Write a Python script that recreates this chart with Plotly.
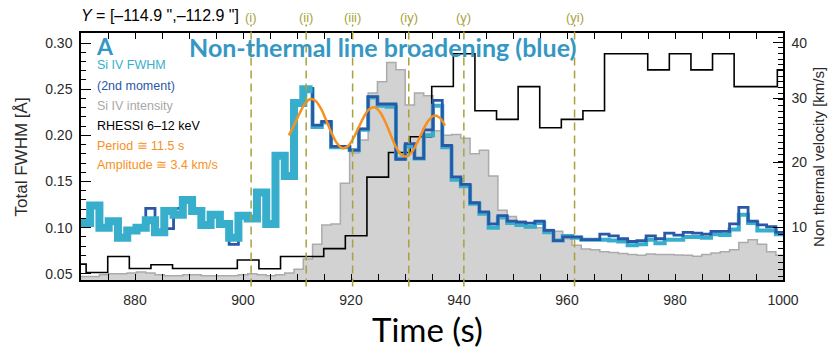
import numpy as np
import plotly.graph_objects as go

# ---------------- data ----------------
# IRIS Si IV time grid (left bin edges, s)
iris_t_start = 869.98
iris_cadence = 1.716

fwhm_siiv = [0.105, 0.124, 0.100, 0.107, 0.089, 0.097, 0.100, 0.108, 0.095, 0.118,
             0.114, 0.130, 0.118, 0.103, 0.114, 0.104, 0.089, 0.113, 0.110, 0.138,
             0.104, 0.178, 0.156, 0.235, 0.250, 0.209, 0.214, 0.187, 0.187, 0.184,
             0.206, 0.241, 0.232, 0.231, 0.175, 0.188, 0.175, 0.200, 0.232, 0.187,
             0.152, 0.145, 0.126, 0.115, 0.100, 0.111, 0.105, 0.103, 0.101, 0.105,
             0.095, 0.086, 0.091, 0.089, 0.087, 0.087, 0.087, 0.086, 0.085, 0.081,
             0.082, 0.087, 0.083, 0.087, 0.087, 0.090, 0.090, 0.089, 0.093, 0.092,
             0.098, 0.114, 0.105, 0.097, 0.097, 0.093]

fwhm_2nd_moment = [0.105, 0.124, 0.100, 0.107, 0.092, 0.097, 0.100, 0.121, 0.095, 0.099,
                   0.121, 0.130, 0.118, 0.103, 0.114, 0.104, 0.082, 0.113, 0.110, 0.138,
                   0.104, 0.178, 0.156, 0.237, 0.251, 0.211, 0.215, 0.188, 0.188, 0.184,
                   0.207, 0.242, 0.234, 0.234, 0.174, 0.191, 0.175, 0.206, 0.238, 0.189,
                   0.155, 0.147, 0.127, 0.117, 0.104, 0.113, 0.107, 0.106, 0.105, 0.107,
                   0.097, 0.086, 0.090, 0.090, 0.087, 0.087, 0.093, 0.091, 0.088, 0.085,
                   0.086, 0.091, 0.088, 0.094, 0.092, 0.095, 0.094, 0.093, 0.096, 0.096,
                   0.104, 0.122, 0.107, 0.103, 0.101, 0.095]

# Si IV intensity, scaled to the left axis
siiv_intensity = [0.047, 0.047, 0.049, 0.050, 0.050, 0.051, 0.052, 0.051, 0.049, 0.048,
                  0.048, 0.049, 0.049, 0.048, 0.048, 0.048, 0.048, 0.049, 0.050, 0.049,
                  0.048, 0.049, 0.051, 0.055, 0.066, 0.082, 0.103, 0.104, 0.148, 0.181,
                  0.195, 0.246, 0.258, 0.279, 0.271, 0.233, 0.246, 0.243, 0.205, 0.200,
                  0.201, 0.197, 0.180, 0.184, 0.156, 0.119, 0.112, 0.107, 0.100, 0.100,
                  0.098, 0.096, 0.088, 0.081, 0.077, 0.076, 0.074, 0.073, 0.072, 0.071,
                  0.070, 0.0715, 0.071, 0.071, 0.0705, 0.070, 0.069, 0.071, 0.0725, 0.074,
                  0.076, 0.084, 0.087, 0.082, 0.074, 0.070]

# RHESSI 6-12 keV, scaled to the left axis (4 s bins)
rhessi_t_start = 866.95
rhessi_cadence = 4.0
rhessi_6_12 = [0.0606, 0.0514, 0.0688, 0.0558, 0.0598, 0.0558, 0.0558, 0.0558, 0.0649, 0.0555,
               0.0688, 0.0688, 0.0773, 0.0913, 0.1548, 0.1815, 0.1985, 0.2530, 0.2884, 0.2267,
               0.2173, 0.2528, 0.2082, 0.2173, 0.2267, 0.2884, 0.2884, 0.2709, 0.2884, 0.2709,
               0.2884, 0.2528, 0.2528, 0.2709]

# Oscillation fit (orange)
osc_time = [908.5, 909.4, 910.4, 911.4, 912.4, 913.4, 914.4, 915.4, 916.4, 917.4,
            918.4, 919.4, 920.4, 921.4, 922.4, 923.4, 924.4, 925.4, 926.4, 927.4,
            928.4, 929.4, 930.4, 931.4, 932.4, 933.4, 934.4, 935.4, 936.4, 937.4]
osc_fwhm = [0.2000, 0.2105, 0.2229, 0.2336, 0.2391, 0.2376, 0.2294, 0.2164, 0.2025, 0.1914,
            0.1861, 0.1881, 0.1964, 0.2084, 0.2203, 0.2285, 0.2303, 0.2249, 0.2139, 0.1999,
            0.1867, 0.1787, 0.1774, 0.1831, 0.1937, 0.2062, 0.2165, 0.2214, 0.2192, 0.2105]

# Event markers
event_times = [901.5, 911.7, 920.3, 930.7, 940.9, 961.4]
event_labels = ["(i)", "(ii)", "(iii)", "(iy)", "(y)", "(yi)"]

# Right-axis calibration: non-thermal velocity (km/s) -> total FWHM (A)
vel_ticks = [10, 20, 30, 40]
vel_tick_fwhm = [0.1004, 0.1711, 0.2399, 0.3003]

x_range = [870, 1000]
y_range = [0.0433, 0.3109]

# ---------------- colours ----------------
C_CYAN = "#37AECB"
C_BLUE = "#2B57A7"
C_GRAY_FILL = "#D2D2D2"
C_GRAY_LINE = "#ABABAB"
C_ORANGE = "#F7901E"
C_OLIVE = "#A8A23E"
C_TITLE = "#3598C4"
FONT = "Liberation Sans, Arial, sans-serif"
FONT_C = "Lato, Open Sans, sans-serif"


def steps(t_start, cadence, vals, i0=0, i1=None):
    vals = list(vals)
    if i1 is None:
        i1 = len(vals)
    v = vals[i0:i1]
    x = t_start + cadence * np.arange(i0, i1 + 1)
    y = v + [v[-1]]
    return x, y


fig = go.Figure()

# Si IV intensity (gray filled histogram)
gx, gy = steps(iris_t_start, iris_cadence, siiv_intensity)
fig.add_trace(go.Scatter(x=gx, y=gy, mode="lines", line=dict(shape="hv", color=C_GRAY_LINE, width=1.5),
                         fill="tozeroy", fillcolor=C_GRAY_FILL, hoverinfo="skip", showlegend=False))

# RHESSI
rx, ry = steps(rhessi_t_start, rhessi_cadence, rhessi_6_12)
fig.add_trace(go.Scatter(x=rx, y=ry, mode="lines", line=dict(shape="hv", color="black", width=1.6),
                         showlegend=False))

# Si IV FWHM (thin part, beneath the 2nd moment)
cx, cy = steps(iris_t_start, iris_cadence, fwhm_siiv, 24, None)
fig.add_trace(go.Scatter(x=cx, y=cy, mode="lines", line=dict(shape="hv", color=C_CYAN, width=4),
                         showlegend=False))

# 2nd moment
bx, by = steps(iris_t_start, iris_cadence, fwhm_2nd_moment)
fig.add_trace(go.Scatter(x=bx, y=by, mode="lines", line=dict(shape="hv", color=C_BLUE, width=2.8),
                         showlegend=False))

# Si IV FWHM (thick part)
cx2, cy2 = steps(iris_t_start, iris_cadence, fwhm_siiv, 0, 25)
fig.add_trace(go.Scatter(x=cx2, y=cy2, mode="lines", line=dict(shape="hv", color=C_CYAN, width=8),
                         showlegend=False))

# Oscillation fit
fig.add_trace(go.Scatter(x=osc_time, y=osc_fwhm, mode="lines",
                         line=dict(shape="spline", color=C_ORANGE, width=2.5), showlegend=False))

# dummy trace to activate the right axis
fig.add_trace(go.Scatter(x=[x_range[0]], y=[y_range[0]], yaxis="y2", mode="markers",
                         marker=dict(opacity=0), hoverinfo="skip", showlegend=False))

# Event lines
for t in event_times:
    fig.add_shape(type="line", xref="x", yref="paper", x0=t, x1=t, y0=-0.026, y1=1.034,
                  line=dict(color=C_OLIVE, width=1.5, dash="8px,5px"), layer="above")
for t, lab in zip(event_times, event_labels):
    fig.add_annotation(x=t, y=1.062, xref="x", yref="paper", text=lab, showarrow=False,
                       font=dict(family=FONT, size=13, color=C_OLIVE), xanchor="center", yanchor="middle")

# Right axis ticks (velocity)
coef = np.polyfit(vel_ticks, vel_tick_fwhm, 2)
minor_v = np.arange(2, 42)
minor_vals = [float(np.polyval(coef, v)) for v in minor_v]
minor_vals = [m for m in minor_vals if y_range[0] <= m <= y_range[1]]

axis_common = dict(showline=True, linecolor="black", linewidth=1.5, showgrid=False, zeroline=False,
                   tickcolor="black", ticks="inside",
                   tickfont=dict(family=FONT, size=14, color="#2a2a2a"))

fig.update_layout(
    width=831, height=349,
    margin=dict(l=81, r=48, t=33, b=69),
    paper_bgcolor="white", plot_bgcolor="white",
    showlegend=False,
    xaxis=dict(range=x_range, tickmode="linear", tick0=880, dtick=20, ticklen=6, tickwidth=1,
               mirror="allticks", ticklabelstandoff=6,
               minor=dict(dtick=5, tick0=870, ticklen=4, ticks="inside", tickcolor="black"),
               **axis_common),
    yaxis=dict(range=y_range, tickmode="linear", tick0=0.05, dtick=0.05, tickformat=".2f",
               ticklen=10, tickwidth=1, ticklabelstandoff=4,
               minor=dict(dtick=0.01, tick0=0.05, ticklen=5, ticks="inside", tickcolor="black"),
               **axis_common),
    yaxis2=dict(range=y_range, overlaying="y", side="right", tickmode="array",
                tickvals=vel_tick_fwhm, ticktext=[str(v) for v in vel_ticks],
                ticklen=10, tickwidth=1, ticklabelstandoff=4,
                minor=dict(tickmode="array", tickvals=minor_vals, ticklen=5, ticks="inside",
                           tickcolor="black"),
                **axis_common),
)

def px_x(x):
    return (x - 80.7) / 702.0

def px_y(y):
    return (280.5 - y) / 247.2

# Header text
fig.add_annotation(x=px_x(79), y=px_y(16), xref="paper", yref="paper", showarrow=False,
                   text="<i>Y</i> = [\u2013114.9 \",\u2013112.9 \"]", xanchor="left", yanchor="middle",
                   font=dict(family=FONT, size=16, color="black"))

# Panel letter and title
fig.add_annotation(x=px_x(94), y=px_y(46), xref="paper", yref="paper", showarrow=False,
                   text="<b>A</b>", xanchor="left", yanchor="middle",
                   font=dict(family=FONT_C, size=23, color=C_TITLE))
fig.add_annotation(x=px_x(382), y=px_y(47), xref="paper", yref="paper", showarrow=False,
                   text="<b>Non-thermal line broadening (blue)</b>", xanchor="center", yanchor="middle",
                   font=dict(family=FONT_C, size=25, color=C_TITLE))

# Legend-like labels
legend_items = [("Si IV FWHM", C_CYAN, 65.7), ("(2nd moment)", C_BLUE, 86),
                ("Si IV intensity", "#A8A8A8", 106), ("RHESSI 6\u201312 keV", "black", 126),
                ("Period \u2245 11.5 s", C_ORANGE, 146), ("Amplitude \u2245 3.4 km/s", C_ORANGE, 165)]
for txt, col, yy in legend_items:
    fig.add_annotation(x=px_x(95), y=px_y(yy), xref="paper", yref="paper", showarrow=False,
                       text=txt, xanchor="left", yanchor="middle",
                       font=dict(family=FONT, size=12.5, color=col))

# Axis titles
fig.add_annotation(x=px_x(21.5), y=px_y(157), xref="paper", yref="paper", showarrow=False,
                   text="Total FWHM [\u00c5]", textangle=-90, xanchor="center", yanchor="middle",
                   font=dict(family=FONT, size=17, color="#2a2a2a"))
fig.add_annotation(x=px_x(818), y=px_y(157), xref="paper", yref="paper", showarrow=False,
                   text="Non thermal velocity [km/s]", textangle=-90, xanchor="center", yanchor="middle",
                   font=dict(family=FONT, size=15, color="#2a2a2a"))
fig.add_annotation(x=px_x(427), y=px_y(330), xref="paper", yref="paper", showarrow=False,
                   text="Time (s)", xanchor="center", yanchor="middle",
                   font=dict(family=FONT_C, size=33, color="black"))

fig.write_html("out.html")
